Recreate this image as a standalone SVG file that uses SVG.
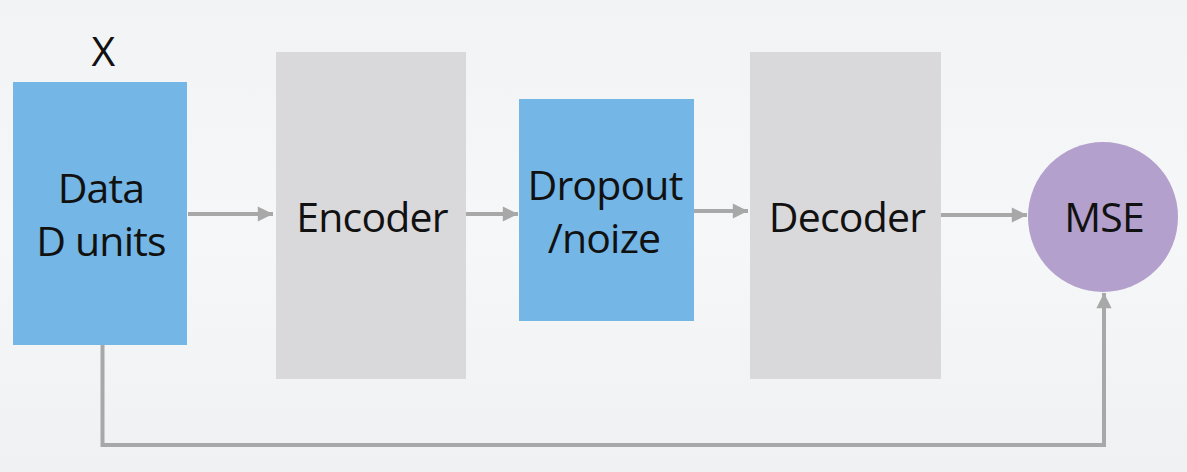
<svg xmlns="http://www.w3.org/2000/svg" width="1187" height="472" viewBox="0 0 1187 472">
  <defs>
    <linearGradient id="bg" x1="0" y1="0" x2="0" y2="1">
      <stop offset="0" stop-color="#f2f3f4"/>
      <stop offset="0.5" stop-color="#f6f7f8"/>
      <stop offset="1" stop-color="#eff1f2"/>
    </linearGradient>
    <marker id="arr" viewBox="0 0 10 10" refX="10" refY="5" markerWidth="4.2" markerHeight="3.8" markerUnits="strokeWidth" orient="auto">
      <path d="M0,0 L10,5 L0,10 Z" fill="#a8a8a8"/>
    </marker>
    <style>
      .blue { fill: #74b6e5; }
      .gray { fill: #d9d9db; }
      .purple { fill: #b3a0cc; }
      .lbl { font-family: "Open Sans", "Noto Sans", "DejaVu Sans", sans-serif; font-size: 41px; letter-spacing: -0.8px; fill: #111111; text-anchor: middle; }
      .conn { stroke: #a8a8a8; stroke-width: 4; fill: none; marker-end: url(#arr); }
    </style>
  </defs>
  <rect x="0" y="0" width="1187" height="472" fill="url(#bg)"/>

  <g id="connectors">
    <line class="conn" x1="188" y1="214" x2="273" y2="214"/>
    <line class="conn" x1="466" y1="214" x2="518" y2="214"/>
    <line class="conn" x1="694" y1="211" x2="748" y2="211"/>
    <line class="conn" x1="941" y1="215" x2="1027" y2="215"/>
    <polyline class="conn" points="102.5,345 102.5,445 1104,445 1104,293"/>
  </g>

  <g id="node-x">
    <text class="lbl" x="103" y="66">X</text>
  </g>

  <g id="node-data">
    <rect class="blue" x="13" y="82" width="174" height="263"/>
    <text class="lbl" x="101" y="203">Data</text>
    <text class="lbl" x="101" y="256">D units</text>
  </g>

  <g id="node-encoder">
    <rect class="gray" x="276" y="52" width="190" height="327"/>
    <text class="lbl" x="372" y="232">Encoder</text>
  </g>

  <g id="node-dropout">
    <rect class="blue" x="519" y="99" width="175" height="222"/>
    <text class="lbl" x="605" y="200">Dropout</text>
    <text class="lbl" x="604" y="253">/noize</text>
  </g>

  <g id="node-decoder">
    <rect class="gray" x="750" y="52" width="191" height="327"/>
    <text class="lbl" x="847" y="232">Decoder</text>
  </g>

  <g id="node-mse">
    <circle class="purple" cx="1103" cy="217" r="75"/>
    <text class="lbl" x="1104" y="232">MSE</text>
  </g>
</svg>
